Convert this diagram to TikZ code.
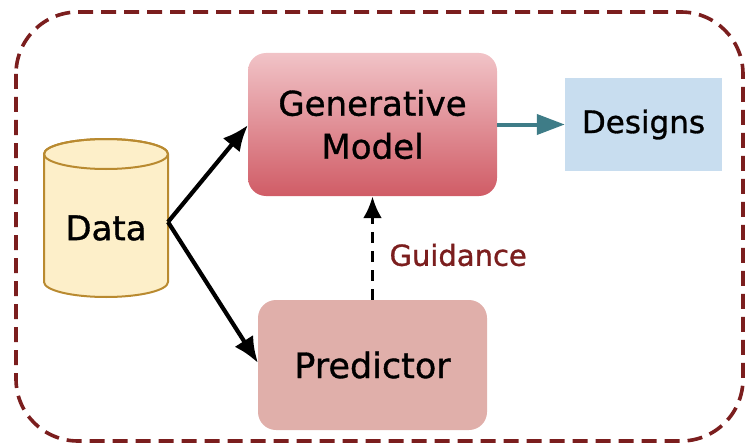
\documentclass[tikz,border=0pt]{standalone}
\usepackage{fontspec}
\setmainfont[FakeBold=1]{DejaVu Sans}
\usetikzlibrary{arrows.meta}
\definecolor{frame}{HTML}{7B1E1E}
\definecolor{gtop}{HTML}{F1C3C7}
\definecolor{gbot}{HTML}{D05C66}
\definecolor{desfill}{HTML}{C8DDEF}
\definecolor{predfill}{HTML}{E0AFAA}
\definecolor{cylfill}{HTML}{FDEFC9}
\definecolor{cylline}{HTML}{B98A30}
\definecolor{teal}{HTML}{3E7C87}
\begin{document}
\begin{tikzpicture}[x=1pt,y=1pt,
  txt/.style={font=\fontsize{34}{43}\selectfont, align=center, text=black},
  arr/.style={-{Latex[length=26pt,width=22pt]}, line width=4.2pt},
]
\useasboundingbox (0,-444) rectangle (745,0);
% frame
\draw[frame, line width=3.6pt, dash pattern=on 15pt off 8pt, rounded corners=62pt] (16,-12) rectangle (743,-441);
% generative model
\shade[top color=gtop, bottom color=gbot, rounded corners=18pt] (248,-53) rectangle (497,-196);
\node[txt, minimum width=249pt, minimum height=143pt] (gen) at (372.5,-124.5) {Generative\\Model};
% designs
\fill[desfill] (565,-78) rectangle (722,-171);
\node[txt, font=\fontsize{31}{36}\selectfont, minimum width=157pt, minimum height=93pt] (des) at (643.5,-124.5) {Designs};
% predictor
\fill[predfill, rounded corners=18pt] (258,-300) rectangle (487,-430);
\node[txt, font=\fontsize{35}{40}\selectfont, minimum width=229pt, minimum height=130pt] (pred) at (372.5,-365) {Predictor};
% cylinder
\filldraw[draw=cylline, fill=cylfill, line width=2pt]
  (44,-154) -- (44,-282) arc[start angle=180, end angle=360, x radius=62pt, y radius=15pt]
  -- (168,-154) arc[start angle=0, end angle=180, x radius=62pt, y radius=15pt] -- cycle;
\draw[cylline, line width=2pt] (106,-154) ellipse[x radius=62pt, y radius=15pt];
\node[txt, font=\fontsize{34}{40}\selectfont, minimum width=124pt] (data) at (106,-228) {Data};
\coordinate (dsrc) at (168,-222);
\coordinate (gin) at (248,-125);
\coordinate (pin) at (258,-363);
% arrows
\draw[arr] (dsrc) -- (gin);
\draw[arr] (dsrc) -- (pin);
\draw[teal, line width=4pt, -{Triangle[length=28pt,width=20pt]}] (gen.east) -- (des.west);
\draw[line width=3.8pt, dash pattern=on 11pt off 8pt, -{Latex[length=22pt,width=19pt]}] (pred.north) -- (gen.south);
\node[anchor=west, text=frame, font=\fontsize{29}{34}\selectfont] (guid) at (386,-255) {Guidance};
\end{tikzpicture}
\end{document}
